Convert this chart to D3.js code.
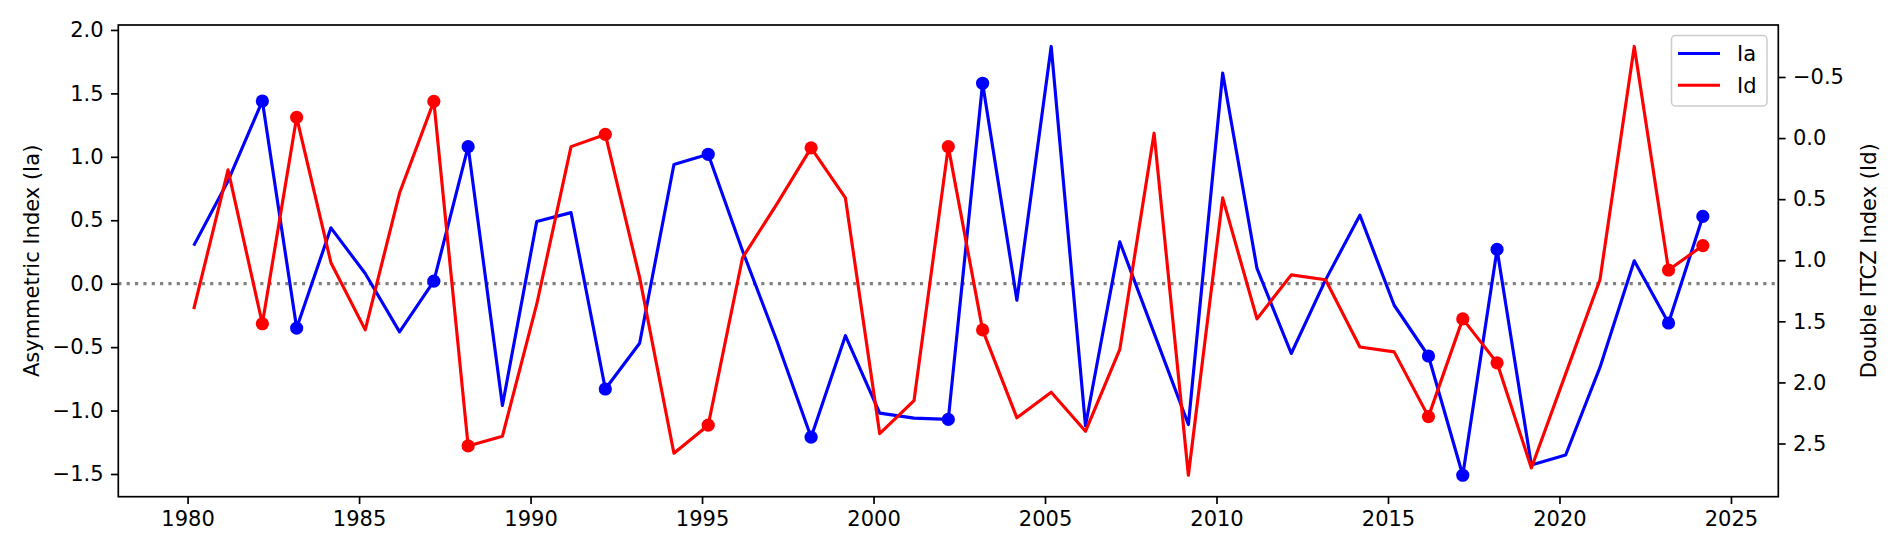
<!DOCTYPE html>
<html>
<head>
<meta charset="utf-8">
<script src="https://cdn.jsdelivr.net/npm/d3@7"></script>
<style>
  body { margin: 0; background: #fff; }
  svg text { font-family: "DejaVu Sans", sans-serif; fill: #000; }
</style>
</head>
<body>
<div id="chart"></div>
<script>
// years of the record (points sit a bit after Jan 1st)
var years = [1980, 1981, 1982, 1983, 1984, 1985, 1986, 1987, 1988, 1989,
             1990, 1991, 1992, 1993, 1994, 1995, 1996, 1997, 1998, 1999,
             2000, 2001, 2002, 2003, 2004, 2005, 2006, 2007, 2008, 2009,
             2010, 2011, 2012, 2013, 2014, 2015, 2016, 2017, 2018, 2019,
             2020, 2021, 2022, 2023, 2024];
var yearOffset = 0.18;

// asymmetric index (left axis)
var ia = [0.30, 0.81, 1.44, -0.35, 0.44, 0.08, -0.38, 0.02, 1.08, -0.96,
          0.49, 0.56, -0.83, -0.47, 0.94, 1.02, 0.26, -0.45, -1.21, -0.41,
          -1.02, -1.06, -1.07, 1.58, -0.13, 1.87, -1.12, 0.33, -0.39, -1.11,
          1.66, 0.12, -0.55, 0.03, 0.54, -0.17, -0.57, -1.51, 0.27, -1.43,
          -1.35, -0.66, 0.18, -0.31, 0.53];

// double ITCZ index (right axis, inverted)
var id = [1.40, 0.26, 1.52, -0.17, 1.02, 1.57, 0.45, -0.30, 2.52, 2.44,
          1.36, 0.07, -0.03, 1.14, 2.58, 2.35, 0.98, 0.54, 0.08, 0.49,
          2.42, 2.15, 0.07, 1.57, 2.29, 2.08, 2.40, 1.73, -0.04, 2.76,
          0.49, 1.48, 1.12, 1.16, 1.71, 1.75, 2.28, 1.48, 1.84, 2.70,
          1.93, 1.16, -0.75, 1.08, 0.88];

// years that get a marker
var markedYears = [1982, 1983, 1987, 1988, 1992, 1995, 1998, 2002, 2003,
                   2016, 2017, 2018, 2023, 2024];

var xTicks = [1980, 1985, 1990, 1995, 2000, 2005, 2010, 2015, 2020, 2025];
var iaTicks = [-1.5, -1.0, -0.5, 0.0, 0.5, 1.0, 1.5, 2.0];
var idTicks = [-0.5, 0.0, 0.5, 1.0, 1.5, 2.0, 2.5];

var W = 1892, H = 552;
var box = { left: 118.3, right: 1778.3, top: 25, bottom: 496.7 };
var fs = 21;          // 10pt at this scale
var tickLen = 7.35, tickPad = 7.35;

var rows = years.map(function(y, i) {
    return { year: y, x: y + yearOffset, ia: ia[i], id: id[i], mark: markedYears.indexOf(y) >= 0 };
});

// matplotlib style 5% margins around the data
function padded(ext) {
    var r = ext[1] - ext[0];
    return [ext[0] - 0.05 * r, ext[1] + 0.05 * r];
}

var x = d3.scaleLinear().domain(padded(d3.extent(rows, function(d) { return d.x; })))
    .range([box.left, box.right]);
var yA = d3.scaleLinear().domain(padded(d3.extent(ia))).range([box.bottom, box.top]);
var yD = d3.scaleLinear().domain(padded(d3.extent(id))).range([box.top, box.bottom]);

var svg = d3.select('#chart').append('svg')
    .attr('width', W).attr('height', H);

// zero line of Ia
svg.append('line')
    .attr('x1', box.left).attr('x2', box.right)
    .attr('y1', yA(0)).attr('y2', yA(0))
    .attr('stroke', '#808080').attr('stroke-width', 3.15)
    .attr('stroke-dasharray', '3.15,5.2');

function drawSeries(key, scale, color) {
    var line = d3.line()
        .x(function(d) { return x(d.x); })
        .y(function(d) { return scale(d[key]); });
    svg.append('path').datum(rows)
        .attr('d', line)
        .attr('fill', 'none')
        .attr('stroke', color)
        .attr('stroke-width', 3.15)
        .attr('stroke-linejoin', 'round');
    svg.append('g').selectAll('circle')
        .data(rows.filter(function(d) { return d.mark; }))
        .enter().append('circle')
        .attr('cx', function(d) { return x(d.x); })
        .attr('cy', function(d) { return scale(d[key]); })
        .attr('r', 6.6)
        .attr('fill', color);
}

drawSeries('ia', yA, 'blue');
drawSeries('id', yD, 'red');

// axes
function styleAxis(g) {
    g.select('.domain').remove();
    g.selectAll('.tick line').attr('stroke', '#000').attr('stroke-width', 1.7);
    g.selectAll('.tick text').style('font-size', fs + 'px').attr('fill', '#000');
}

var fmt = d3.format('.1f');

svg.append('g')
    .attr('transform', 'translate(0,' + box.bottom + ')')
    .call(d3.axisBottom(x).tickValues(xTicks).tickFormat(d3.format('d'))
        .tickSize(tickLen).tickPadding(tickPad))
    .call(styleAxis);

svg.append('g')
    .attr('transform', 'translate(' + box.left + ',0)')
    .call(d3.axisLeft(yA).tickValues(iaTicks).tickFormat(fmt)
        .tickSize(tickLen).tickPadding(tickPad))
    .call(styleAxis);

svg.append('g')
    .attr('transform', 'translate(' + box.right + ',0)')
    .call(d3.axisRight(yD).tickValues(idTicks).tickFormat(fmt)
        .tickSize(tickLen).tickPadding(tickPad))
    .call(styleAxis);

// frame
svg.append('rect')
    .attr('x', box.left).attr('y', box.top)
    .attr('width', box.right - box.left).attr('height', box.bottom - box.top)
    .attr('fill', 'none').attr('stroke', '#000').attr('stroke-width', 1.7);

// axis titles
var midY = (box.top + box.bottom) / 2;
svg.append('text')
    .attr('transform', 'translate(32,' + midY + ') rotate(-90)')
    .attr('text-anchor', 'middle').attr('dy', '0.35em')
    .style('font-size', fs + 'px')
    .text('Asymmetric Index (Ia)');
svg.append('text')
    .attr('transform', 'translate(1869,' + midY + ') rotate(-90)')
    .attr('text-anchor', 'middle').attr('dy', '0.35em')
    .style('font-size', fs + 'px')
    .text('Double ITCZ Index (Id)');

// legend
var legendItems = [{ label: 'Ia', color: 'blue' }, { label: 'Id', color: 'red' }];
var lg = svg.append('g').attr('transform', 'translate(1671.5,35.5)');
lg.append('rect')
    .attr('width', 95.5).attr('height', 70.5).attr('rx', 4)
    .attr('fill', '#fff').attr('fill-opacity', 0.8)
    .attr('stroke', '#cccccc').attr('stroke-width', 1.5);
var li = lg.selectAll('g.item').data(legendItems).enter().append('g')
    .attr('transform', function(d, i) { return 'translate(0,' + (18 + i * 31.7) + ')'; });
li.append('line')
    .attr('x1', 6.5).attr('x2', 48.5)
    .attr('stroke', function(d) { return d.color; })
    .attr('stroke-width', 3.15);
li.append('text')
    .attr('x', 65.5).attr('dy', '0.36em')
    .style('font-size', fs + 'px')
    .text(function(d) { return d.label; });
</script>
</body>
</html>
